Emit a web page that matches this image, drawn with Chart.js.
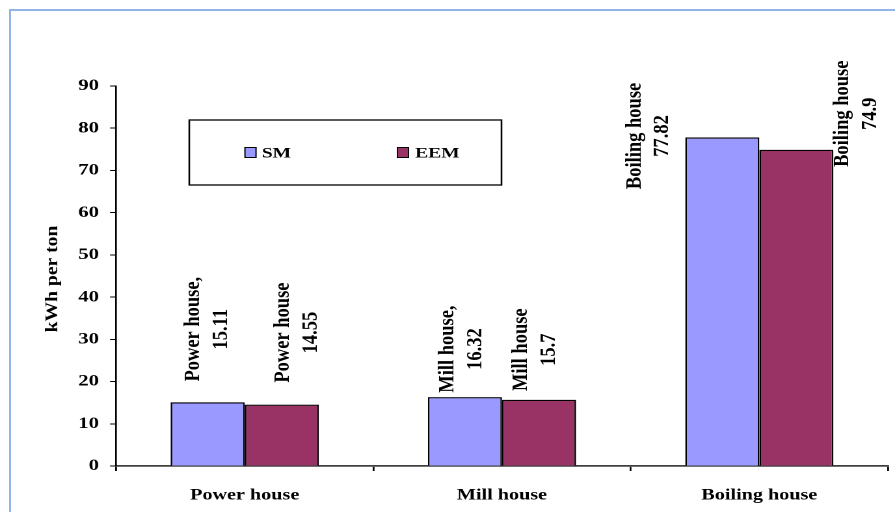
<!DOCTYPE html>
<html>
<head>
<meta charset="utf-8">
<script src="https://cdn.jsdelivr.net/npm/chart.js@4.4.1/dist/chart.umd.min.js"></script>
<style>
html, body { margin: 0; padding: 0; background: #fff; overflow: hidden; width: 895px; height: 512px; }
#frame { position: absolute; left: 9px; top: 9px; width: 960px; height: 600px;
         border-top: 2px solid #93B4E6; border-left: 2px solid #93B4E6; }
#wrap { position: absolute; left: 0; top: 0; width: 688px; height: 512px;
        transform: scaleX(1.300872); transform-origin: 0 0; }
</style>
</head>
<body>
<div id="frame"></div>
<div id="wrap"><canvas id="c" width="688" height="512"></canvas></div>
<script>
// ---------------- data ----------------
const categories = ["Power house", "Mill house", "Boiling house"];
const seriesNames = ["SM", "EEM"];
const smValues = [15.11, 16.32, 77.82];
const eemValues = [14.55, 15.7, 74.9];
const smLabelNames = ["Power house,", "Mill house,", "Boiling house"];
const eemLabelNames = ["Power house", "Mill house", "Boiling house"];
const yTickValues = [0, 10, 20, 30, 40, 50, 60, 70, 80, 90];
const yAxisTitle = "kWh per ton";

// ---------------- styling / layout ----------------
const FONT = '"Liberation Serif", "Times New Roman", serif';
const COLORS = ["#9999FF", "#993366"];
const Y_AXIS_W = 89.2;
// data label offsets (dx from bar centre, dy of label centre from bar top)
const labelOffsets = [
  [[0, -73], [-2.5, -48], [-56.5, -1.5]],
  [[12, -72], [-3, -50], [46.3, -36]]
];
const labelNames = [smLabelNames, eemLabelNames];

const dataLabelPlugin = {
  id: 'dataLabels',
  afterDatasetsDraw(chart) {
    const ctx = chart.ctx;
    chart.data.datasets.forEach((ds, di) => {
      const meta = chart.getDatasetMeta(di);
      meta.data.forEach((bar, i) => {
        const lines = [labelNames[di][i], String(ds.data[i])];
        const [dx, dy] = labelOffsets[di][i];
        ctx.save();
        ctx.translate(bar.x + dx, bar.y + dy);
        ctx.rotate(-Math.PI / 2);
        ctx.scale(1.12, 1);
        ctx.font = 'bold 16.5px ' + FONT;
        ctx.fillStyle = '#000';
        ctx.textAlign = 'center';
        ctx.textBaseline = 'middle';
        const lh = 21.4;
        lines.forEach((t, k) => ctx.fillText(t, 0, (k - (lines.length - 1) / 2) * lh));
        ctx.restore();
      });
    });
  }
};

const titlePlugin = {
  id: 'yTitle',
  afterDraw(chart) {
    const ctx = chart.ctx;
    const a = chart.chartArea;
    ctx.save();
    ctx.translate(40.5, (a.top + a.bottom) / 2 + 3);
    ctx.rotate(-Math.PI / 2);
    ctx.scale(1.4, 1);
    ctx.font = 'bold 14px ' + FONT;
    ctx.fillStyle = '#000';
    ctx.textAlign = 'center';
    ctx.textBaseline = 'middle';
    ctx.fillText(yAxisTitle, 0, 0);
    ctx.restore();
  }
};

const legendPlugin = {
  id: 'boxLegend',
  afterDraw(chart) {
    const ctx = chart.ctx;
    const a = chart.chartArea;
    const left = a.left + 56.3, top = 120, w = 240, h = 65;
    ctx.save();
    ctx.strokeStyle = '#000';
    ctx.lineWidth = 1.3;
    ctx.strokeRect(left, top, w, h);
    const cy = top + h / 2;
    const items = [[42.8, 55.7], [160, 173.6]];
    chart.data.datasets.forEach((ds, di) => {
      const [sx, tx] = items[di];
      ctx.fillStyle = ds.backgroundColor;
      ctx.fillRect(left + sx, cy - 5, 8.5, 10);
      ctx.lineWidth = 1;
      ctx.strokeStyle = '#000';
      ctx.strokeRect(left + sx, cy - 5, 8.5, 10);
      ctx.fillStyle = '#000';
      ctx.font = 'bold 15px ' + FONT;
      ctx.textAlign = 'left';
      ctx.textBaseline = 'middle';
      ctx.fillText(ds.label, left + tx, cy + 1);
    });
    ctx.restore();
  }
};

new Chart(document.getElementById('c'), {
  type: 'bar',
  data: {
    labels: categories,
    datasets: [
      { label: seriesNames[0], data: smValues, backgroundColor: COLORS[0],
        borderColor: '#000', borderWidth: 1.3, barPercentage: 1, categoryPercentage: 0.576 },
      { label: seriesNames[1], data: eemValues, backgroundColor: COLORS[1],
        borderColor: '#000', borderWidth: 1.3, barPercentage: 1, categoryPercentage: 0.576 }
    ]
  },
  options: {
    responsive: false,
    devicePixelRatio: 2,
    animation: false,
    layout: { padding: { left: 0, top: 86, right: 5.4, bottom: 0 } },
    plugins: { legend: { display: false }, tooltip: { enabled: false } },
    scales: {
      x: {
        offset: true,
        grid: { offset: true, drawOnChartArea: false, drawTicks: true, tickLength: 5, color: '#000', lineWidth: 1.4 },
        border: { display: true, color: '#404040', width: 1.8 },
        ticks: { color: '#000', font: { family: FONT, size: 15.5, weight: 'bold' }, padding: 15, maxRotation: 0, autoSkip: false },
        afterFit(s) { s.height = 46; }
      },
      y: {
        min: yTickValues[0],
        max: yTickValues[yTickValues.length - 1],
        ticks: { stepSize: yTickValues[1] - yTickValues[0], color: '#000',
                 font: { family: FONT, size: 16, weight: 'bold' }, padding: 8.5 },
        grid: { drawOnChartArea: false, tickLength: 4.6, color: '#000', lineWidth: 1 },
        border: { display: true, color: '#000', width: 1.3 },
        afterFit(s) { s.width = Y_AXIS_W; }
      }
    }
  },
  plugins: [dataLabelPlugin, titlePlugin, legendPlugin]
});
</script>
</body>
</html>
